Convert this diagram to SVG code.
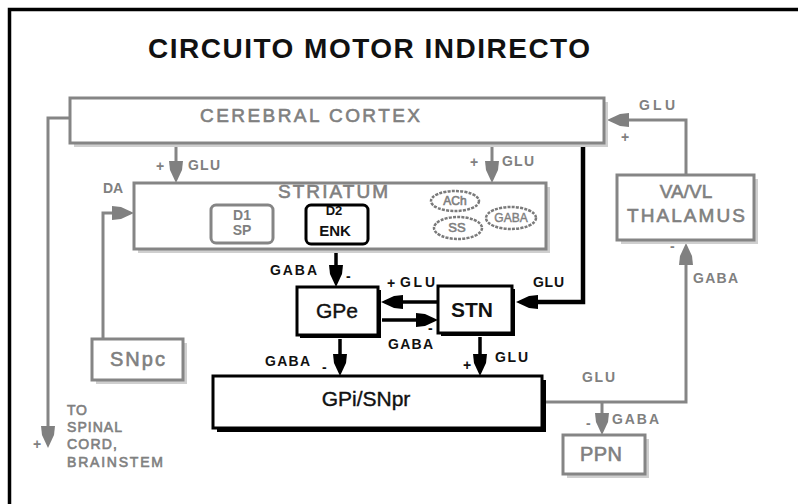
<svg xmlns="http://www.w3.org/2000/svg" width="798" height="504" viewBox="0 0 798 504">
<style>
text{font-family:"Liberation Sans",Arial,sans-serif}
.g{fill:#808080}
.k{fill:#111}
.gt{stroke:#808080;stroke-width:0.6}
.kt{stroke:#111;stroke-width:0.4}
.gbox{fill:#fff;stroke:#858585;stroke-width:3}
.gsh{fill:#cfcfcf}
.kbox{fill:#fff;stroke:#000;stroke-width:3}
.ksh{fill:#000}
.gl{fill:none;stroke:#858585;stroke-width:3}
.kl{fill:none;stroke:#000;stroke-width:3.5}
.lbl{font-size:14px;font-weight:bold}
.node{font-size:21px}
.ell{fill:#fff;stroke:#7a7a7a;stroke-width:2.5;stroke-dasharray:3 1.2}
</style>
<defs>
<marker id="ag" markerUnits="userSpaceOnUse" markerWidth="26" markerHeight="18" viewBox="-16 -9 26 18" refX="0" refY="0" orient="auto">
<path d="M8,0 L-5,-6 L-14,-7 L-14,7 L-5,6 Z" fill="#808080"/>
</marker>
<marker id="ak" markerUnits="userSpaceOnUse" markerWidth="26" markerHeight="18" viewBox="-16 -9 26 18" refX="0" refY="0" orient="auto">
<path d="M8,0 L-5,-6 L-14,-7 L-14,7 L-5,6 Z" fill="#000"/>
</marker>
</defs>
<rect width="798" height="504" fill="#fff"/>
<rect x="9.5" y="9.5" width="800" height="500" fill="none" stroke="#000" stroke-width="3.5"/>
<text x="148" y="58" font-size="28" font-weight="bold" textLength="442" class="k">CIRCUITO MOTOR INDIRECTO</text>

<g id="connectors">
<polyline class="gl" points="70,118 48,118 48,440" marker-end="url(#ag)"/>
<line class="gl" x1="176" y1="143" x2="176" y2="175" marker-end="url(#ag)"/>
<line class="gl" x1="492" y1="143" x2="492" y2="175" marker-end="url(#ag)"/>
<polyline class="gl" points="103,339 103,213 126,213" marker-end="url(#ag)"/>
<line class="kl" x1="336" y1="244" x2="336" y2="279" marker-end="url(#ak)"/>
<line class="kl" x1="438" y1="302" x2="389" y2="302" marker-end="url(#ak)"/>
<line class="kl" x1="382" y1="320" x2="430" y2="320" marker-end="url(#ak)"/>
<polyline class="kl" style="stroke-width:4.5" points="583,143 583,302 524,302" marker-end="url(#ak)"/>
<line class="kl" x1="340" y1="339" x2="340" y2="368" marker-end="url(#ak)"/>
<line class="kl" x1="480" y1="337" x2="480" y2="368" marker-end="url(#ak)"/>
<polyline class="gl" points="538,402 686,402 686,251" marker-end="url(#ag)"/>
<line class="gl" x1="602" y1="402" x2="602" y2="427" marker-end="url(#ag)"/>
<polyline class="gl" points="686,175 686,120 615,120" marker-end="url(#ag)"/>
</g>

<g id="labels">
<text class="g lbl" x="33" y="449">+</text>
<text class="g gt" font-size="14" x="67" y="415" textLength="20">TO</text>
<text class="g gt" font-size="14" x="67" y="432" textLength="55">SPINAL</text>
<text class="g gt" font-size="14" x="67" y="449" textLength="50">CORD,</text>
<text class="g gt" font-size="14" x="67" y="467" textLength="96">BRAINSTEM</text>
<text class="g lbl" x="156" y="171">+</text>
<text class="g lbl" x="188" y="170" textLength="32">GLU</text>
<text class="g lbl" x="470" y="167">+</text>
<text class="g lbl" x="502" y="166" textLength="32">GLU</text>
<text class="g lbl" x="103" y="193" textLength="20">DA</text>
<text class="k lbl" x="270" y="275" textLength="47">GABA</text>
<text class="k lbl" x="346" y="281">-</text>
<text class="k lbl" x="387" y="288">+</text>
<text class="k lbl" x="400" y="287" textLength="35">GLU</text>
<text class="k lbl" x="388" y="349" textLength="45">GABA</text>
<text class="k lbl" x="428" y="333">-</text>
<text class="k lbl" x="533" y="287" textLength="31">GLU</text>
<text class="k lbl" x="265" y="366" textLength="45">GABA</text>
<text class="k lbl" x="322" y="372">-</text>
<text class="k lbl" x="463" y="370">+</text>
<text class="k lbl" x="495" y="362" textLength="33">GLU</text>
<text class="g lbl" x="582" y="382" textLength="33">GLU</text>
<text class="g lbl" x="586" y="428">-</text>
<text class="g lbl" x="612" y="424" textLength="47">GABA</text>
<text class="g lbl" x="670" y="251">-</text>
<text class="g lbl" x="693" y="283" textLength="45">GABA</text>
<text class="g lbl" x="639" y="110" textLength="36">GLU</text>
<text class="g lbl" x="621" y="142">+</text>
</g>

<g id="cortex">
<rect class="gsh" x="74" y="102" width="534" height="45"/>
<rect class="gbox" x="70" y="98" width="534" height="45"/>
<text class="g gt" font-size="19" x="200" y="122" textLength="220">CEREBRAL CORTEX</text>
</g>

<g id="striatum">
<rect class="gsh" x="138" y="187" width="412" height="66"/>
<rect class="gbox" x="134" y="183" width="412" height="66"/>
<text class="g gt" font-size="19" x="278" y="198" textLength="110">STRIATUM</text>
</g>

<g id="d1sp">
<rect class="gbox" x="211" y="205" width="62" height="38" rx="5"/>
<text class="g" font-size="14" font-weight="bold" x="242" y="220" text-anchor="middle">D1</text>
<text class="g" font-size="14" font-weight="bold" x="242" y="235" text-anchor="middle">SP</text>
</g>

<g id="d2enk">
<rect x="306" y="205" width="62" height="39" rx="5" fill="#fff"/>
<text class="k" font-size="13" font-weight="bold" x="334" y="215" text-anchor="middle">D2</text>
<text class="k" font-size="15" font-weight="bold" x="335" y="236" text-anchor="middle">ENK</text>
<rect x="306" y="205" width="62" height="39" rx="5" fill="none" stroke="#000" stroke-width="3"/>
</g>

<g id="ach">
<ellipse class="ell" cx="455" cy="201" rx="24" ry="10"/>
<text class="g gt" font-size="12" x="455" y="205" text-anchor="middle">ACh</text>
</g>
<g id="ss">
<ellipse class="ell" cx="458" cy="228" rx="24" ry="11"/>
<text class="g gt" font-size="13" x="457" y="232" text-anchor="middle">SS</text>
</g>
<g id="gaba">
<ellipse class="ell" cx="511" cy="218" rx="25" ry="11"/>
<text class="g gt" font-size="12" x="511" y="222" text-anchor="middle" style="stroke-width:0.4">GABA</text>
</g>

<g id="gpe">
<rect class="ksh" x="300" y="290" width="81" height="48"/>
<rect class="kbox" x="297" y="287" width="81" height="48"/>
<text class="k node kt" x="337" y="318" text-anchor="middle">GPe</text>
</g>

<g id="stn">
<rect class="ksh" x="441" y="289" width="74" height="47"/>
<rect class="kbox" x="438" y="286" width="74" height="47"/>
<text class="k node" font-weight="bold" x="472" y="317" text-anchor="middle">STN</text>
</g>

<g id="gpi">
<rect class="ksh" x="217" y="380" width="329" height="52"/>
<rect class="kbox" x="213" y="376" width="329" height="52"/>
<text class="k node kt" x="366" y="406" text-anchor="middle">GPi/SNpr</text>
</g>

<g id="snpc">
<rect class="gsh" x="96" y="343" width="91" height="41"/>
<rect class="gbox" x="92" y="339" width="91" height="41"/>
<text class="g gt" font-size="20" x="110" y="366" textLength="55">SNpc</text>
</g>

<g id="thalamus">
<rect class="gsh" x="621" y="179" width="137" height="65"/>
<rect class="gbox" x="617" y="175" width="137" height="65"/>
<text class="g gt" font-size="19" x="686" y="198" text-anchor="middle">VA/VL</text>
<text class="g gt" font-size="19" x="627" y="222" textLength="118">THALAMUS</text>
</g>

<g id="ppn">
<rect class="gsh" x="567" y="439" width="82" height="39"/>
<rect class="gbox" x="563" y="435" width="82" height="39"/>
<text class="g gt" font-size="20" x="580" y="461" textLength="42">PPN</text>
</g>
</svg>
